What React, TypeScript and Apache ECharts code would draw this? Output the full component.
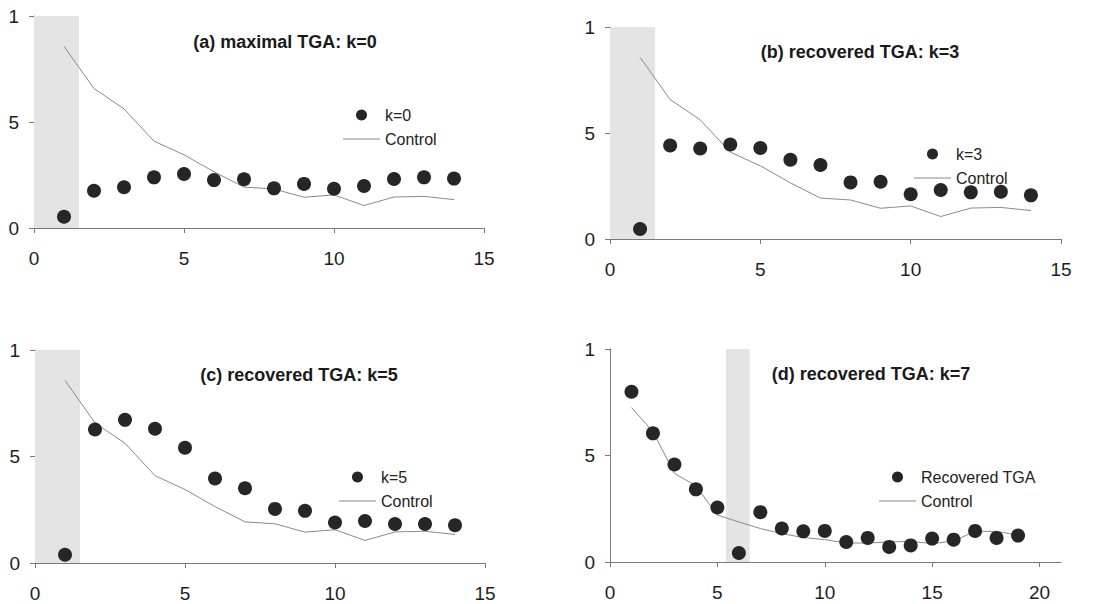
import React, { useEffect, useRef } from "react";
import * as echarts from "echarts";

// ---- data ----
const daysMain = [1, 2, 3, 4, 5, 6, 7, 8, 9, 10, 11, 12, 13, 14];
const daysD = [1, 2, 3, 4, 5, 6, 7, 8, 9, 10, 11, 12, 13, 14, 15, 16, 17, 18, 19];

const controlMain = [0.857, 0.658, 0.562, 0.41, 0.345, 0.265, 0.193, 0.184, 0.145, 0.156, 0.106, 0.146, 0.149, 0.134];
const tgaK0 = [0.053, 0.176, 0.192, 0.239, 0.255, 0.226, 0.23, 0.187, 0.208, 0.185, 0.198, 0.231, 0.239, 0.233];
const tgaK3 = [0.047, 0.441, 0.427, 0.446, 0.429, 0.374, 0.349, 0.267, 0.27, 0.211, 0.231, 0.22, 0.223, 0.206];
const tgaK5 = [0.039, 0.627, 0.672, 0.63, 0.541, 0.397, 0.351, 0.254, 0.245, 0.19, 0.197, 0.183, 0.183, 0.177];

const controlD = [0.725, 0.612, 0.416, 0.358, 0.22, 0.188, 0.157, 0.133, 0.115, 0.105, 0.089, 0.089, 0.094, 0.097, 0.086, 0.099, 0.144, 0.144, 0.126];
const tgaK7 = [0.799, 0.604, 0.458, 0.341, 0.256, 0.042, 0.234, 0.157, 0.144, 0.146, 0.094, 0.113, 0.071, 0.078, 0.11, 0.105, 0.146, 0.113, 0.124];

const titles = ["(a) maximal TGA: k=0", "(b) recovered TGA: k=3", "(c) recovered TGA: k=5", "(d) recovered TGA: k=7"];
const dotNames = ["k=0", "k=3", "k=5", "Recovered TGA"];
const controlName = "Control";

// shaded intervals [from, to] on x
const bands = [[0, 1.5], [0, 1.5], [0, 1.5], [5.4, 6.5]];

const xTicksMain = [0, 5, 10, 15];
const xTicksD = [0, 5, 10, 15, 20];
const yTickValues = [0, 0.5, 1];
const yTickLabels = ["0", "5", "1"];

const FONT = "'Liberation Sans', Arial, sans-serif";

export default function App() {
  const ref = useRef<HTMLDivElement>(null);

  useEffect(() => {
    if (!ref.current) return;
    const chart = echarts.init(ref.current, null, { renderer: "svg" });

    const grids = [
      { left: 34, top: 16, width: 450, height: 212 },
      { left: 610, top: 27, width: 451, height: 212 },
      { left: 35, top: 350, width: 450, height: 213 },
      { left: 610, top: 349, width: 451, height: 213 },
    ];

    const axisLineStyle = { color: "#7a7a7a", width: 1 };
    const xMax = [15, 15, 15, 21];
    const xTickSets = [xTicksMain, xTicksMain, xTicksMain, xTicksD];

    const xAxes = grids.map((_, i) => ({
      type: "value",
      gridIndex: i,
      min: 0,
      max: xMax[i],
      interval: 5,
      splitLine: { show: false },
      axisLine: { show: true, lineStyle: axisLineStyle },
      axisTick: { show: true, length: 5, lineStyle: axisLineStyle, customValues: xTickSets[i] },
      axisLabel: {
        fontSize: 19,
        color: "#1e1e1e",
        margin: 21,
        fontFamily: FONT,
        customValues: xTickSets[i],
      },
    }));

    const yAxes = grids.map((_, i) => ({
      type: "value",
      gridIndex: i,
      min: 0,
      max: 1,
      interval: 0.5,
      splitLine: { show: false },
      axisLine: { show: true, lineStyle: axisLineStyle },
      axisTick: { show: true, length: 5, lineStyle: axisLineStyle },
      axisLabel: {
        fontSize: 19,
        color: "#1e1e1e",
        margin: 15,
        fontFamily: FONT,
        formatter: (v: number) => {
          const idx = yTickValues.indexOf(v);
          return idx >= 0 ? yTickLabels[idx] : "";
        },
      },
    }));

    const dotSets = [tgaK0, tgaK3, tgaK5, tgaK7];
    const ctrlSets = [controlMain, controlMain, controlMain, controlD];
    const daySets = [daysMain, daysMain, daysMain, daysD];

    const series: any[] = [];
    for (let i = 0; i < 4; i++) {
      const days = daySets[i];
      series.push({
        type: "line",
        name: controlName,
        xAxisIndex: i,
        yAxisIndex: i,
        data: days.map((d, j) => [d, ctrlSets[i][j]]),
        symbol: "none",
        lineStyle: { color: "#8a8a8a", width: 1 },
        itemStyle: { color: "#8a8a8a" },
        z: 3,
        markArea: {
          silent: true,
          itemStyle: { color: "#e4e4e4" },
          data: [[{ xAxis: bands[i][0], yAxis: 0 }, { xAxis: bands[i][1], yAxis: 1 }]],
        },
      });
      series.push({
        type: "scatter",
        name: dotNames[i],
        xAxisIndex: i,
        yAxisIndex: i,
        data: days.map((d, j) => [d, dotSets[i][j]]),
        symbol: "circle",
        symbolSize: 14,
        itemStyle: { color: "#262626", opacity: 1 },
        z: 4,
      });
    }

    const titleCenters = [
      [285, 43],
      [860, 53],
      [299, 376],
      [871, 375],
    ];
    const title = titles.map((t, i) => ({
      text: t,
      left: titleCenters[i][0],
      top: titleCenters[i][1] - 10,
      textAlign: "center",
      padding: 0,
      textStyle: { fontSize: 18, fontWeight: "bold", color: "#1a1a1a", fontFamily: FONT },
    }));

    const legendPos = [
      [343, 107],
      [914, 146],
      [339, 469],
      [879, 469],
    ];
    const legend = legendPos.map((p, i) => ({
      orient: "vertical",
      left: p[0],
      top: p[1],
      padding: 0,
      itemGap: 8,
      itemWidth: 37,
      itemHeight: 11,
      selectedMode: false,
      textStyle: { fontSize: 16, color: "#222", fontFamily: FONT },
      data: [
        { name: dotNames[i], icon: "circle" },
        { name: controlName, icon: "path://M0,0L37,0L37,1.2L0,1.2Z" },
      ],
    }));

    chart.setOption({
      animation: false,
      backgroundColor: "#ffffff",
      textStyle: { fontFamily: FONT },
      title,
      legend,
      grid: grids,
      xAxis: xAxes,
      yAxis: yAxes,
      series,
    });

    return () => chart.dispose();
  }, []);

  return (
    <div
      ref={ref}
      style={{ position: "fixed", left: 0, top: 0, width: 1116, height: 604, background: "#fff" }}
    />
  );
}
